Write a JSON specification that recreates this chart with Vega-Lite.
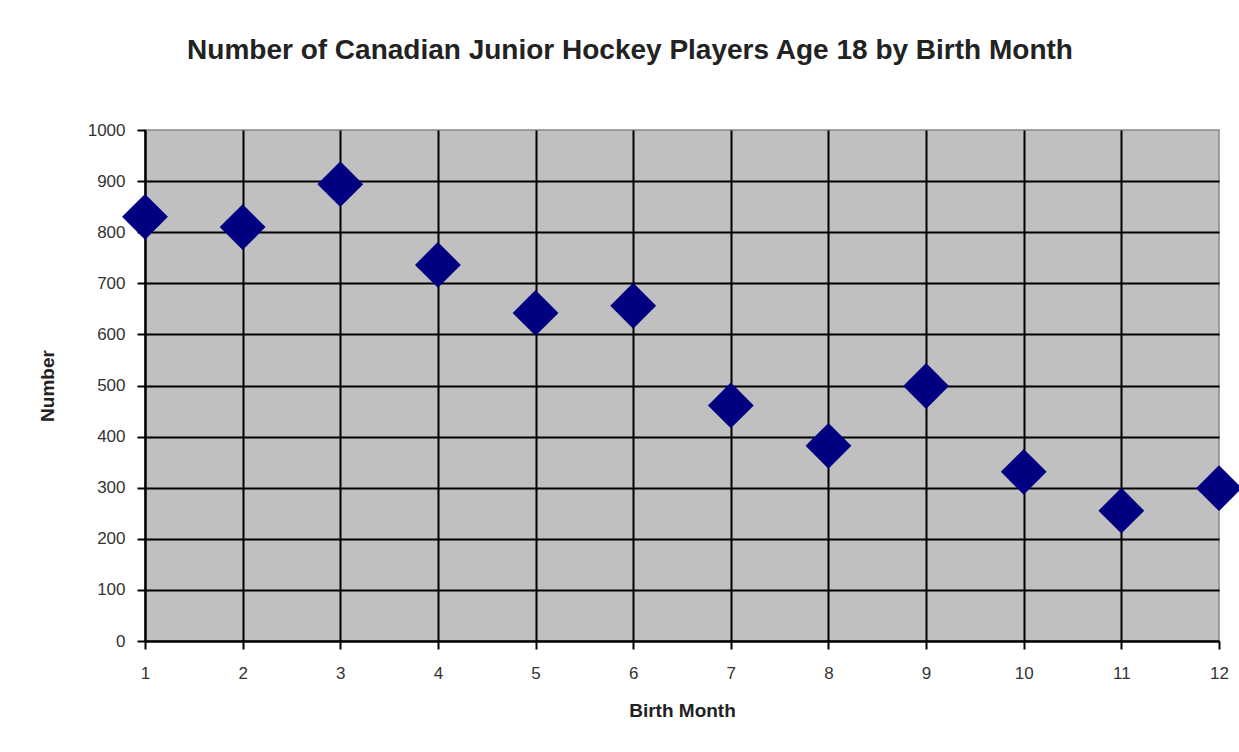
{
  "$schema": "https://vega.github.io/schema/vega-lite/v6.json",
  "width": 1074,
  "height": 511,
  "autosize": {"type": "none"},
  "padding": {"left": 145, "top": 130, "right": 20, "bottom": 111},
  "background": "white",
  "title": {
    "text": "Number of Canadian Junior Hockey Players Age 18 by Birth Month",
    "font": "Liberation Sans",
    "fontSize": 28,
    "fontWeight": "bold",
    "color": "#222222",
    "anchor": "middle",
    "frame": "group",
    "dx": -52,
    "offset": 56
  },
  "data": {
    "values": [
      {"month": 1, "number": 830},
      {"month": 2, "number": 810},
      {"month": 3, "number": 894},
      {"month": 4, "number": 736},
      {"month": 5, "number": 642},
      {"month": 6, "number": 656},
      {"month": 7, "number": 461},
      {"month": 8, "number": 382},
      {"month": 9, "number": 499},
      {"month": 10, "number": 331},
      {"month": 11, "number": 255},
      {"month": 12, "number": 299}
    ]
  },
  "mark": {"type": "point", "shape": "diamond", "filled": true, "size": 2100, "color": "#000080", "opacity": 1},
  "encoding": {
    "x": {
      "field": "month",
      "type": "quantitative",
      "title": "Birth Month",
      "scale": {"domain": [1, 12], "nice": false, "zero": false},
      "axis": {
        "values": [1, 2, 3, 4, 5, 6, 7, 8, 9, 10, 11, 12],
        "format": "d",
        "gridColor": {"condition": {"test": "datum.value == 12", "value": "transparent"}, "value": "#000000"},
        "gridWidth": 2,
        "domainColor": "#000000",
        "domainWidth": 2,
        "tickColor": "#000000",
        "tickWidth": 2,
        "tickSize": 8,
        "labelFont": "Liberation Sans",
        "labelFontSize": 17,
        "labelColor": "#333333",
        "labelPadding": 16,
        "labelFlush": false,
        "titleFont": "Liberation Sans",
        "titleFontSize": 19,
        "titleFontWeight": "bold",
        "titleColor": "#222222",
        "titlePadding": 20
      }
    },
    "y": {
      "field": "number",
      "type": "quantitative",
      "title": "Number",
      "scale": {"domain": [0, 1000], "nice": false},
      "axis": {
        "values": [0, 100, 200, 300, 400, 500, 600, 700, 800, 900, 1000],
        "format": "d",
        "gridColor": {"condition": {"test": "datum.value == 1000", "value": "transparent"}, "value": "#000000"},
        "gridWidth": 2,
        "domainColor": "#000000",
        "domainWidth": 2,
        "tickColor": "#000000",
        "tickWidth": 2,
        "tickSize": 8,
        "labelFont": "Liberation Sans",
        "labelFontSize": 17,
        "labelColor": "#333333",
        "labelPadding": 12,
        "labelFlush": false,
        "titleFont": "Liberation Sans",
        "titleFontSize": 19,
        "titleFontWeight": "bold",
        "titleColor": "#222222",
        "titlePadding": 30
      }
    }
  },
  "config": {
    "view": {"fill": "#c0c0c0", "stroke": "#888888", "strokeWidth": 1.5}
  }
}
